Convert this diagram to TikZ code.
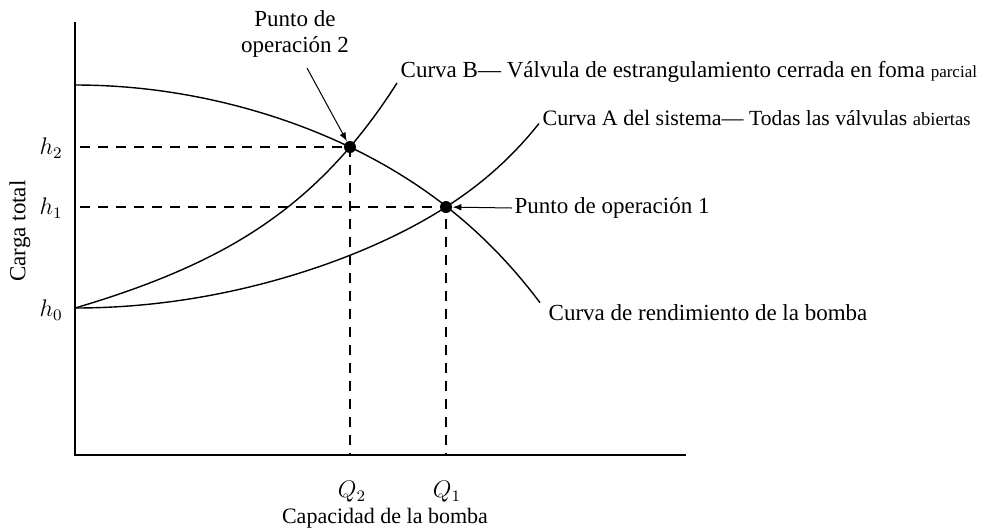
\documentclass[tikz,border=0pt]{standalone}
\usepackage{fontspec}
\setmainfont{Liberation Serif}
\usepackage{amsmath}
\usetikzlibrary{arrows}

\tikzset{
  opdot/.style={circle, fill=black, inner sep=0pt, minimum size=6pt},
  guide/.style={dash pattern=on 5pt off 4pt},
  curvelbl/.style={anchor=west, inner sep=1pt}
}

\begin{document}
\begin{tikzpicture}[x=0.5pt, y=-0.5pt, line width=0.7pt, font=\fontsize{11.5}{13}\selectfont]
        \useasboundingbox (0, 0) rectangle (987, 527);

        % ejes
        \draw (75, 22) -- (75, 455) -- (686, 455);

        % puntos de operacion
        \node[opdot] (op2) at (350, 147) {};
        \node[opdot] (op1) at (446, 207) {};

        % textos
        \node[align=center] (lblop2) at (295, 34) {Punto de\\operación 2};
        \node[curvelbl] (lblB) at (398, 72)
            {Curva B— Válvula de estrangulamiento cerrada en foma {\fontsize{8.5}{10}\selectfont parcial}};
        \node[curvelbl, font=\fontsize{11}{13}\selectfont] (lblA) at (540, 118)
            {Curva A del sistema— {\fontsize{10.8}{12}\selectfont Todas las válvulas} {\fontsize{9.3}{10}\selectfont abiertas}};
        \node[curvelbl] (lblop1) at (512, 208) {Punto de operación 1};
        \node[curvelbl] (lblpump) at (546, 313) {Curva de rendimiento de la bomba};

        % curvas
        \draw plot[domain=75:540, samples=80]
            (\x, {85 + 110*((\x-75)/372)^2 + 12*((\x-75)/372)^6});
        \draw plot[domain=75:397, samples=80]
            (\x, {308 - 80.3*((\x-75)/275) - 40.7*((\x-75)/275)^2 - 40*((\x-75)/275)^4});
        \draw plot[domain=75:539, samples=80]
            (\x, {308 - 95*((\x-75)/371)^2 - 6*((\x-75)/371)^8});

        % lineas de guia
        \draw[guide] (80, 147) -- (op2.center) -- (350, 455);
        \draw[guide] (80, 207) -- (op1.center) -- (446, 455);

        % flechas
        \coordinate (tail2) at (307, 68);
        \draw[-latex, line width=0.5pt] (tail2) -- (op2);
        \draw[-latex, line width=0.5pt] (lblop1.west) -- (op1);

        % rotulos de ejes
        \node[anchor=east] (h2) at (70, 148) {$h_2$};
        \node[anchor=east] (h1) at (70, 208) {$h_1$};
        \node[anchor=east] (h0) at (70, 310) {$h_0$};
        \node (q2) at (352, 492) {$Q_2$};
        \node (q1) at (447, 492) {$Q_1$};
        \node[font=\fontsize{11}{13}\selectfont] (xlbl) at (385, 518) {Capacidad de la bomba};
        \node[rotate=90] (ylbl) at (20, 231) {Carga total};
\end{tikzpicture}
\end{document}
